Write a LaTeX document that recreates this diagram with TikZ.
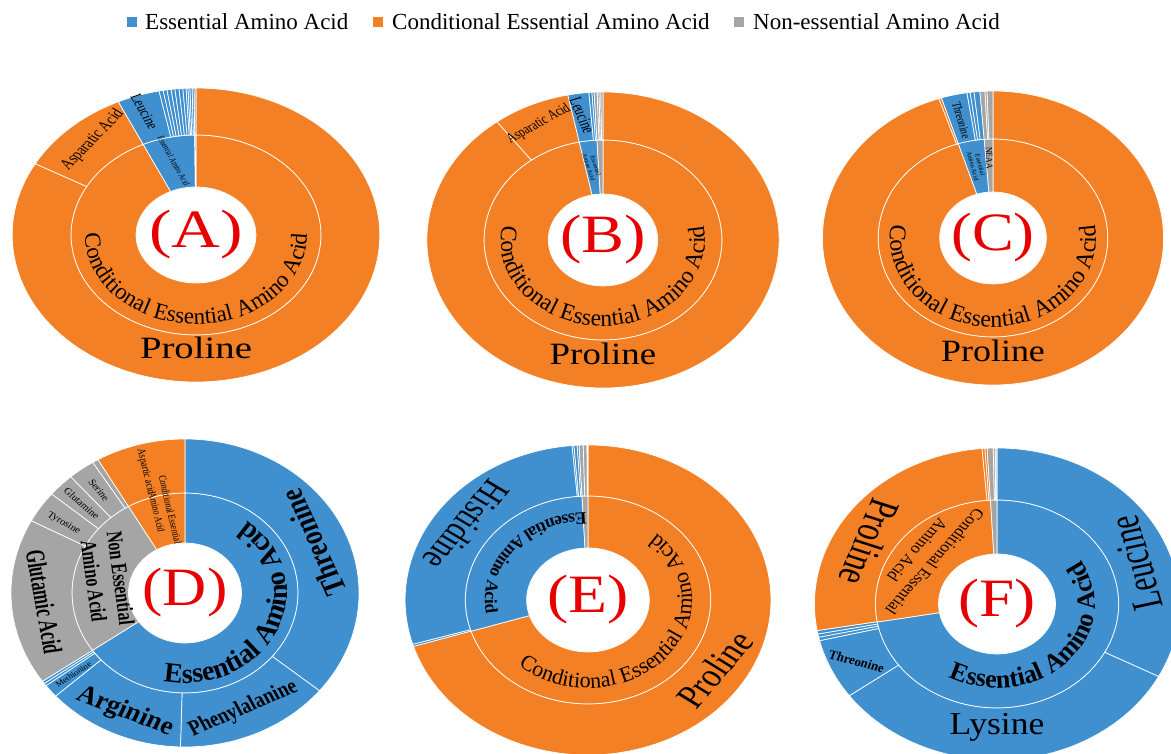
\documentclass[tikz,border=0pt]{standalone}
\usepackage{fontspec}
\setmainfont{Liberation Serif}
\usetikzlibrary{decorations.text}
\definecolor{eaa}{RGB}{64,144,208}
\definecolor{cea}{RGB}{243,128,36}
\definecolor{nea}{RGB}{165,165,165}
\definecolor{lbl}{RGB}{232,0,0}
\newcommand\slc[5]{\filldraw[sl,fill=#1] (#2:#4) arc[start angle=#2,end angle=#3,radius=#4] -- (#3:#5) arc[start angle=#3,end angle=#2,radius=#5] -- cycle;}
\newcommand\fsz[1]{\fontsize{#1}{#1}\selectfont}
\newcommand\ctA{\fontsize{23}{23}\selectfont}
\newcommand\ctB{\fontsize{23.5}{23.5}\selectfont}
\newcommand\ctC{\fontsize{23.8}{23.8}\selectfont}
\newcommand\ctD{\fontsize{28}{28}\selectfont\bfseries}
\newcommand\ctE{\fontsize{22}{22}\selectfont}
\newcommand\ctEb{\fontsize{17.5}{17.5}\selectfont\bfseries}
\newcommand\ctF{\fontsize{26}{26}\selectfont\bfseries}
\begin{document}
\begin{tikzpicture}[x=1pt,y=1pt,
  sl/.style={draw=white,line width=0.7pt},
  lab/.style={inner sep=0pt,transform shape,align=center},
  big/.style={lab,text=lbl,font=\fsz{54}},
  curv/.style={decorate,decoration={text along path,text align=center,text={#1}}}]
\useasboundingbox[fill=white] (0,0) rectangle (1171,754);

% legend
\fill[eaa] (127,727) rectangle (137,737);
\node[anchor=west,inner sep=0pt,font=\fsz{23}] (lg1) at (145,732) {Essential Amino Acid};
\fill[cea] (373,727) rectangle (383,737);
\node[anchor=west,inner sep=0pt,font=\fsz{23}] (lg2) at (392,732) {Conditional Essential Amino Acid};
\fill[nea] (734,727) rectangle (744,737);
\node[anchor=west,inner sep=0pt,font=\fsz{23}] (lg3) at (753,732) {Non-essential Amino Acid};

% ---------------- A ----------------
\begin{scope}[shift={(196,519)},xscale=1.25]
\slc{cea}{90}{-245}{48}{100}
\slc{eaa}{115}{90.6}{48}{100}
\slc{nea}{90.6}{90}{48}{100}
\slc{cea}{90}{-209}{100}{147}
\slc{cea}{151}{115}{100}{147}
\slc{eaa}{115}{101.6}{100}{147}
\foreach \a/\b in {101.6/100.3,100.3/99.1,99.1/97.8,97.8/96.6,96.6/95.3,95.3/94.1,94.1/93.1,93.1/92.5,92.5/91.9,91.9/91.2,91.2/90.6}{\slc{eaa}{\a}{\b}{100}{147}}
\slc{nea}{90.6}{90}{100}{147}
\node[big] (A0) at (0,0) {(A)};
\node[lab,font=\fsz{31}] (A1) at (0,-113) {Proline};
\node[lab,rotate=52,xscale=0.8,font=\fsz{15}] (A2) at (131:126) {Asparatic Acid};
\node[lab,rotate=-66,xscale=0.9,font=\fsz{13}] (A3) at (108.5:130) {Leucine};
\node[lab,rotate=-66,xscale=0.8,font=\fsz{7.5}] (A4) at (103.5:76) {Essential Amino Acid};
\end{scope}
\path[curv={|\ctA|Conditional Essential Amino Acid}] ([shift={(170:111 and 89)}]196,519) arc[start angle=170,end angle=370,x radius=111,y radius=89];

% ---------------- B ----------------
\begin{scope}[shift={(603,514)},xscale=1.19]
\slc{cea}{90}{-258.5}{46}{100}
\slc{eaa}{101.5}{92.9}{46}{100}
\slc{nea}{92.9}{90}{46}{100}
\slc{cea}{90}{-233}{100}{148}
\slc{cea}{127}{101.5}{100}{148}
\slc{eaa}{101.5}{94.6}{100}{148}
\slc{eaa}{94.6}{93.6}{100}{148}
\slc{eaa}{93.6}{92.9}{100}{148}
\foreach \a/\b in {92.9/91.9,91.9/91.3,91.3/90.7,90.7/90}{\slc{nea}{\a}{\b}{100}{148}}
\node[big] (B0) at (0,0) {(B)};
\node[lab,font=\fsz{31}] (B1) at (0,-114) {Proline};
\node[lab,rotate=33,xscale=0.72,font=\fsz{14}] (B2) at (115:128) {Asparatic Acid};
\node[lab,rotate=-70,xscale=0.77,font=\fsz{15}] (B3) at (98:126) {Leucine};
\node[lab,rotate=-74,font=\fontsize{5.5}{6}\selectfont] (B4) at (97:74) {Essential\\Amino Acid};
\end{scope}
\path[curv={|\ctB|Conditional Essential Amino Acid}] ([shift={(170:102 and 86)}]603,514) arc[start angle=170,end angle=370,x radius=102,y radius=86];

% ---------------- C ----------------
\begin{scope}[shift={(993,516)},xscale=1.16]
\slc{cea}{90}{-252.4}{46}{99}
\slc{eaa}{107.6}{94.4}{46}{99}
\slc{nea}{94.4}{90}{46}{99}
\slc{cea}{90}{-251.5}{99}{147}
\slc{cea}{108.5}{107.6}{99}{147}
\slc{eaa}{107.6}{98.8}{99}{147}
\foreach \a/\b in {98.8/97.7,97.7/96.4,96.4/94.4}{\slc{eaa}{\a}{\b}{99}{147}}
\foreach \a/\b in {94.4/92.7,92.7/92,92/90}{\slc{nea}{\a}{\b}{99}{147}}
\node[big] (C0) at (0,0) {(C)};
\node[lab,font=\fsz{31}] (C1) at (0,-113) {Proline};
\node[lab,rotate=-76,xscale=0.82,font=\fsz{11}] (C2) at (103:121) {Threonine};
\node[lab,rotate=-77,font=\fontsize{6}{6.5}\selectfont] (C3) at (101:74) {Essential\\Amino Acid};
\node[lab,rotate=-88,font=\fsz{8}] (C4) at (92.3:80) {NEAA};
\end{scope}
\path[curv={|\ctC|Conditional Essential Amino Acid}] ([shift={(170:103 and 89)}]993,516) arc[start angle=170,end angle=370,x radius=103,y radius=89];

% ---------------- D ----------------
\begin{scope}[shift={(185,161)},xscale=1.13]
\slc{eaa}{90}{-145}{50}{100}
\slc{nea}{-145}{-240}{50}{100}
\slc{cea}{-240}{-270}{50}{100}
\slc{eaa}{90}{-39.4}{100}{154}
\slc{eaa}{-39.4}{-91.5}{100}{154}
\slc{eaa}{-91.5}{-138}{100}{154}
\slc{eaa}{-138}{-143}{100}{154}
\slc{eaa}{-143}{-144}{100}{154}
\slc{eaa}{-144}{-145}{100}{154}
\slc{nea}{-145}{-208}{100}{154}
\slc{nea}{-208}{-220}{100}{154}
\slc{nea}{-220}{-229}{100}{154}
\slc{nea}{-229}{-238}{100}{154}
\slc{nea}{-238}{-240}{100}{154}
\slc{cea}{-240}{-270}{100}{154}
\node[big] (D0) at (0,0) {(D)};
\node[lab,rotate=112,xscale=0.87,font=\fsz{29}\bfseries] (D1) at (24:124) {Threonine};
\node[lab,rotate=26,xscale=0.78,font=\fsz{22}\bfseries] (D2) at (-66:127) {Phenylalanine};
\node[lab,rotate=-23.5,xscale=0.92,font=\fsz{26}\bfseries] (D3) at (-114:130) {Arginine};
\node[lab,rotate=36,font=\fsz{8}] (D4) at (-140.5:128) {Methionine};
\node[lab,rotate=-81,xscale=0.7,font=\fsz{24}\bfseries] (D5) at (184:125) {Glutamic Acid};
\node[lab,rotate=-83,xscale=0.8,font=\fontsize{20}{24}\selectfont\bfseries] (D6) at (169:70) {Non Essential\\Amino Acid};
\node[lab,rotate=-33,font=\fsz{9.5}] (D7) at (147:128) {Tyrosine};
\node[lab,rotate=-44.5,font=\fsz{9.5}] (D8) at (135.5:128) {Glutamine};
\node[lab,rotate=-53.5,font=\fsz{9.5}] (D9) at (126.5:128) {Serine};
\node[lab,rotate=-78,xscale=0.87,font=\fsz{10}] (D10) at (106:126) {Aspartic acid};
\node[lab,rotate=-78,xscale=0.85,font=\fontsize{9.5}{12}\selectfont] (D11) at (103:84) {Conditional Essential\\Amino Acid};
\end{scope}
\path[curv={|\ctD|Essential Amino Acid}] ([shift={(220:102 and 90)}]185,161) arc[start angle=220,end angle=450,x radius=102,y radius=90];

% ---------------- E ----------------
\begin{scope}[shift={(588,154)},xscale=1.18]
\slc{cea}{90}{-162.5}{52}{104}
\slc{eaa}{197.5}{92.8}{52}{104}
\slc{nea}{92.8}{90}{52}{104}
\slc{cea}{90}{-162.6}{104}{155}
\slc{eaa}{197.4}{196.6}{104}{155}
\slc{eaa}{196.6}{95}{104}{155}
\foreach \a/\b in {95/94.4,94.4/93.4,93.4/92.8}{\slc{eaa}{\a}{\b}{104}{155}}
\foreach \a/\b in {92.8/91.5,91.5/90.3,90.3/90}{\slc{nea}{\a}{\b}{104}{155}}
\node[big] (E0) at (0,0) {(E)};
\node[lab,rotate=-125,xscale=0.8,font=\fsz{34}] (E1) at (144:127) {Histidine};
\node[lab,rotate=54,xscale=0.86,font=\fsz{34}] (E2) at (-33:128) {Proline};
\end{scope}
\path[curv={|\ctE|Conditional Essential Amino Acid}] ([shift={(200:104 and 88)}]588,154) arc[start angle=200,end angle=435,x radius=104,y radius=88];
\path[curv={|\ctEb|Essential Amino Acid}] ([shift={(60:103 and 87)}]588,154) arc[start angle=60,end angle=224,x radius=103,y radius=87];

% ---------------- F ----------------
\begin{scope}[shift={(997,150)},xscale=1.17]
\slc{eaa}{90}{-170}{50}{104}
\slc{cea}{190}{93.1}{50}{104}
\slc{nea}{93.1}{90}{50}{104}
\slc{eaa}{90}{-27.7}{104}{156}
\slc{eaa}{-27.7}{-144}{104}{156}
\slc{eaa}{-144}{-166.4}{104}{156}
\foreach \a/\b in {193.6/192.3,192.3/191.1,191.1/189.8}{\slc{eaa}{\a}{\b}{104}{156}}
\slc{cea}{189.8}{94.7}{104}{156}
\slc{cea}{94.7}{93.8}{104}{156}
\slc{cea}{93.8}{93.1}{104}{156}
\slc{nea}{93.1}{91.2}{104}{156}
\slc{nea}{91.2}{90.6}{104}{156}
\slc{nea!50}{90.6}{90}{104}{156}
\node[big] (F0) at (0,0) {(F)};
\node[lab,rotate=104,xscale=0.78,font=\fsz{38}] (F1) at (19:126) {Leucine};
\node[lab,xscale=0.95,font=\fsz{32}] (F2) at (0,-123) {Lysine};
\node[lab,rotate=-17,xscale=0.85,font=\fsz{13}\bfseries] (F3) at (205.5:133) {Threonine};
\node[lab,rotate=-110.5,xscale=0.82,font=\fsz{37}] (F4) at (150.5:125) {Proline};
\node[lab,rotate=-127.5,font=\fontsize{15}{19}\selectfont] (F5) at (141.7:77) {Conditional Essential\\Amino Acid};
\end{scope}
\path[curv={|\ctF|Essential Amino Acid}] ([shift={(200:98 and 84)}]997,150) arc[start angle=200,end angle=431,x radius=98,y radius=84];
\end{tikzpicture}
\end{document}
